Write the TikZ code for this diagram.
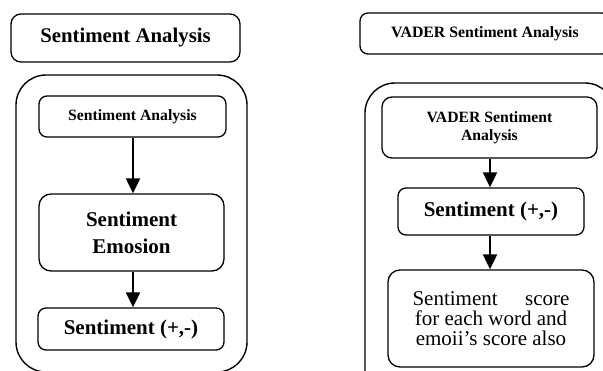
\documentclass[tikz,border=0pt]{standalone}
\usepackage{fontspec}
\setmainfont{Liberation Serif}
\usetikzlibrary{arrows.meta}
\tikzset{
  box/.style={draw, line width=1.3pt, rounded corners=8pt, inner sep=0pt, align=center},
  outer/.style={draw, line width=1.4pt, rounded corners=30pt, inner sep=0pt},
  flow/.style={line width=2pt, -{Triangle[width=14pt,length=15pt]}},
}
\begin{document}
\begin{tikzpicture}[x=1pt,y=-1pt]
\useasboundingbox (0,0) rectangle (603,370);
\clip (0,0) rectangle (603,370);
% left column
\node[box, rounded corners=10pt, minimum width=229pt, minimum height=48pt,
  font=\fontsize{20.8}{22}\selectfont\bfseries] (topL) at (125.5,38) {Sentiment Analysis};
\node[outer, minimum width=231pt, minimum height=297pt] (outerL) at (131.5,223.5) {};
\node[box, minimum width=187pt, minimum height=41pt,
  font=\fontsize{15.7}{17}\selectfont\bfseries] (L1) at (132.5,116.5) {Sentiment Analysis};
\node[box, rounded corners=12pt, minimum width=185pt, minimum height=77pt,
  font=\fontsize{21}{27}\selectfont\bfseries] (L2) at (131.5,232.5) {Sentiment\\Emosion};
\node[box, minimum width=186pt, minimum height=42pt,
  font=\fontsize{21}{24}\selectfont\bfseries] (L3) at (131,329) {Sentiment (+,-)};
\draw[flow] (L1.south -| 133,0) -- (L2.north -| 133,0);
\draw[flow] (L2.south -| 133,0) -- (L3.north -| 133,0);
% right column
\node[box, rounded corners=8pt, minimum width=250pt, minimum height=41pt,
  font=\fontsize{15.8}{18}\selectfont\bfseries] (topR) at (485,33.5) {VADER Sentiment Analysis};
\node[outer, minimum width=250pt, minimum height=320pt] (outerR) at (490,243) {};
\node[box, rounded corners=10pt, minimum width=215pt, minimum height=61pt,
  font=\fontsize{15.7}{18}\selectfont\bfseries] (R1) at (489.5,127.5) {VADER Sentiment\\Analysis};
\node[box, minimum width=186pt, minimum height=47pt,
  font=\fontsize{21}{24}\selectfont\bfseries] (R2) at (491,211.5) {Sentiment (+,-)};
\node[box, rounded corners=12pt, minimum width=206pt, minimum height=97pt,
  font=\fontsize{21}{20}\selectfont] (R3) at (491,318.5)
  {\makebox[157pt]{Sentiment\hfill score}\\for each word and\\emoii’s score also};
\draw[flow] (R1.south -| 490,0) -- (R2.north -| 490,0);
\draw[flow] (R2.south -| 490,0) -- (R3.north -| 490,0);
\end{tikzpicture}
\end{document}
